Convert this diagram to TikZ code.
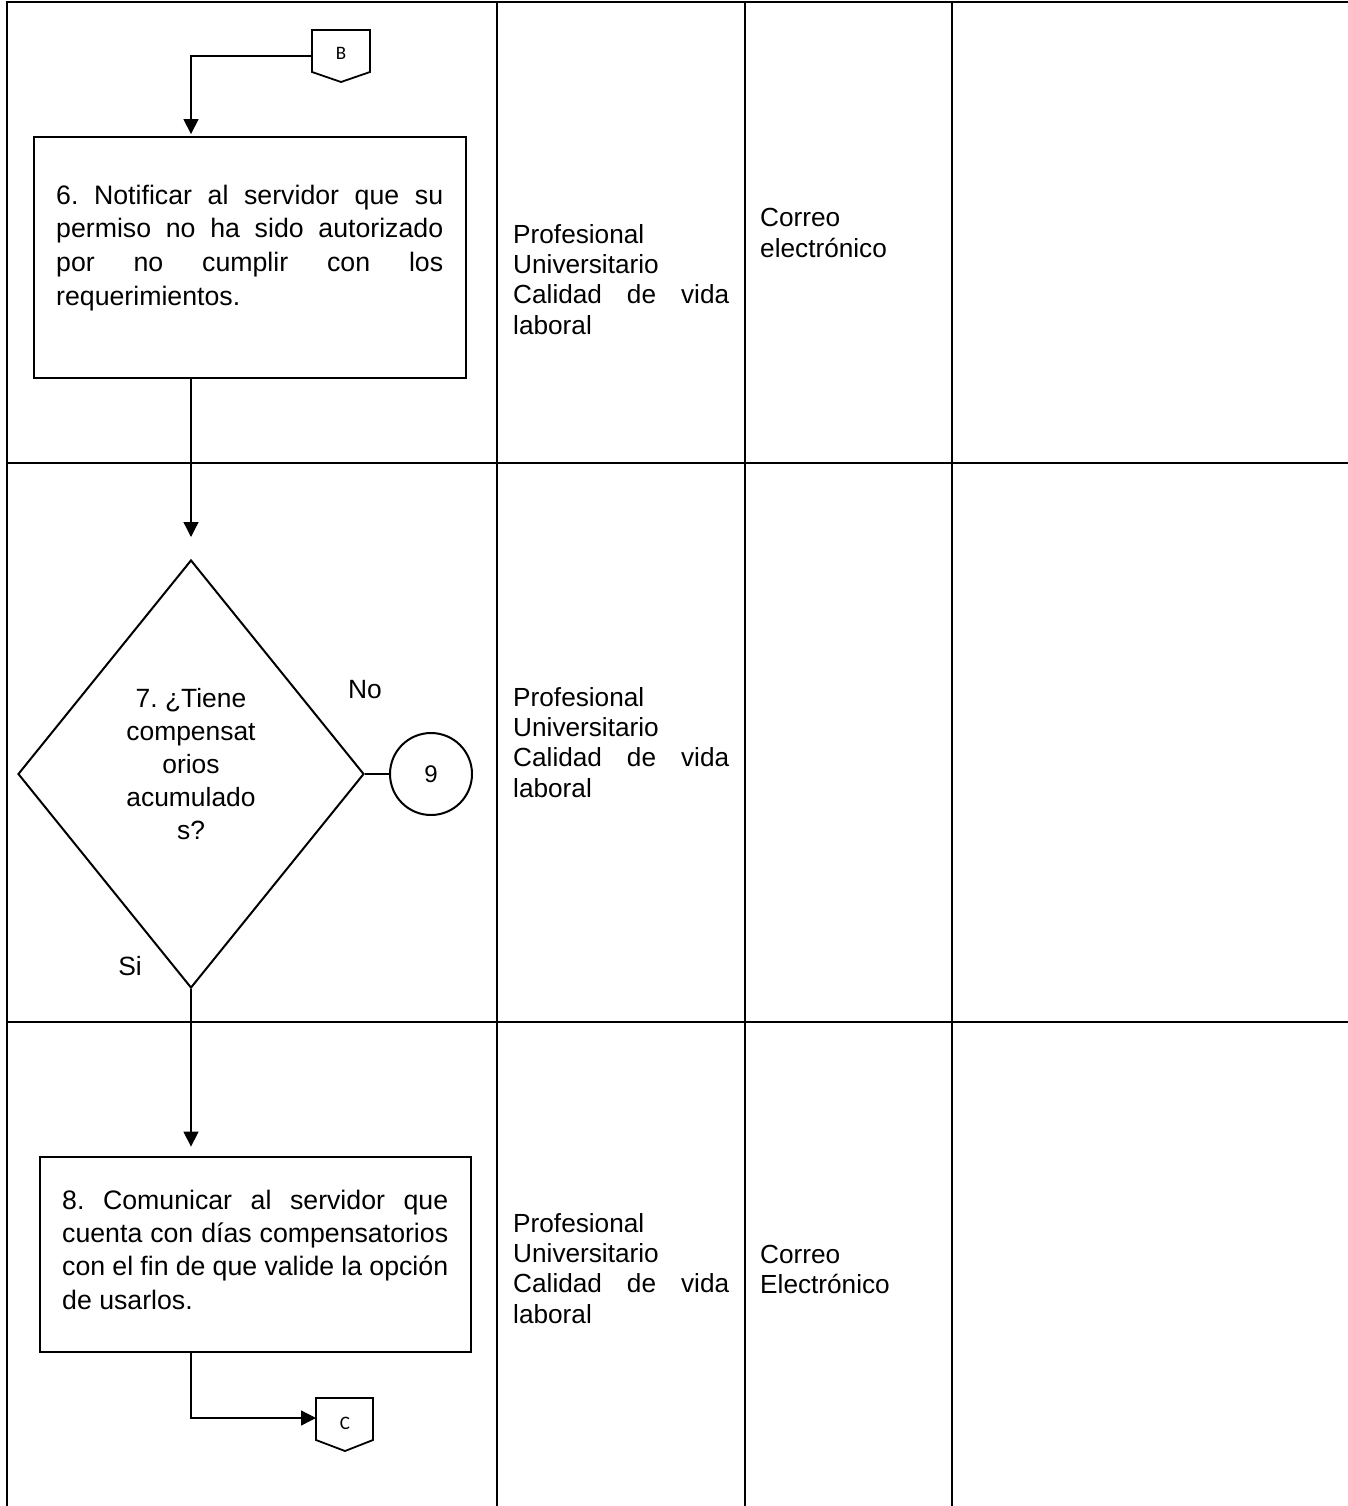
\documentclass[tikz,border=0pt]{standalone}
\usepackage{fontspec}
\setmainfont{Liberation Sans}
\newfontfamily\connfont{Carlito}
\usetikzlibrary{arrows.meta,shapes.geometric}
% a line of text stretched to a given width (justified line)
\newcommand{\jline}[2]{\makebox[#1][s]{#2}}
\frenchspacing

\begin{document}
\begin{tikzpicture}[x=1pt,y=-1pt,
  lane/.style={line width=2.2pt},
  procbox/.style={draw, rectangle, line width=2.8pt, inner sep=0pt},
  decision/.style={draw, diamond, line width=2pt, inner sep=0pt},
  onpage/.style={draw, circle, line width=2pt, inner sep=0pt, minimum size=82pt,
                 font=\fontsize{24}{28}\selectfont},
  flow/.style={line width=1.3pt},
  arr/.style={flow, -{Triangle[length=15pt,width=15pt]}},
  pagecon/.style={line width=1.8pt, line join=miter},
  boxtext/.style={inner sep=0pt, align=left, anchor=base west,
                  font=\fontsize{26.7}{33.5}\selectfont},
  lanetext/.style={inner sep=0pt, align=left, anchor=base west,
                   font=\fontsize{26.2}{30.3}\selectfont},
  branchtext/.style={inner sep=0pt, anchor=base, font=\fontsize{26.4}{30}\selectfont},
  context/.style={inner sep=0pt, font=\connfont\fontsize{19}{22}\selectfont}
]
\useasboundingbox (0,0) rectangle (1348,1506);

% ---- table grid ----
\draw[lane] (6,2) -- (1348,2);
\draw[lane] (7,463) -- (1348,463);
\draw[lane] (7,1022) -- (1348,1022);
\foreach \x in {7,497,745,952}
  \draw[lane] (\x,1) -- (\x,1506);

% ---- off-page connector B ----
\draw[pagecon] (312,30) -- (370,30) -- (370,72) -- (341,82) -- (312,72) -- cycle;
\node[context] (offB) at (341,53) {B};
\coordinate (Bin) at (312,56);

% ---- step 6 (text anchored on its last baseline) ----
\node[procbox, minimum width=432pt, minimum height=241pt] (s6) at (250,257.5) {};
\node[boxtext] (t6) at (56,305)
  {\jline{387pt}{6. Notificar al servidor que su}\\
   \jline{387pt}{permiso no ha sido autorizado}\\
   \jline{387pt}{por no cumplir con los}\\
   requerimientos.};

% ---- decision 7 ----
\node[decision, minimum width=346pt, minimum height=428pt] (d7) at (191,774) {};
\node[inner sep=0pt, align=center, anchor=base,
      font=\fontsize{26.4}{33}\selectfont] (q7) at (191,839)
  {7. ¿Tiene\\compensat\\orios\\acumulado\\s?};
\node[onpage] (c9) at (431,774) {9};
\node[branchtext] (lno) at (365,698) {No};
\node[branchtext] (lsi) at (130,975) {Si};

% ---- step 8 ----
\node[procbox, minimum width=431pt, minimum height=195pt] (s8) at (255.5,1254.5) {};
\node[boxtext, font=\fontsize{26.7}{33.3}\selectfont] (t8) at (62,1309)
  {\jline{386pt}{8. Comunicar al servidor que}\\
   \jline{386pt}{cuenta con días compensatorios}\\
   \jline{386pt}{con el fin de que valide la opción}\\
   de usarlos.};

% ---- off-page connector C ----
\draw[pagecon] (316,1398) -- (373,1398) -- (373,1440) -- (345,1451) -- (316,1440) -- cycle;
\node[context] (offC) at (345,1423) {C};
\coordinate (Cin) at (316,1418);

% ---- responsible and medium columns ----
\node[lanetext] (r1) at (513,334)
  {Profesional\\Universitario\\\jline{216pt}{Calidad de vida}\\laboral};
\node[lanetext, font=\fontsize{26.2}{31}\selectfont] (m1) at (760,258)
  {Correo\\electrónico};
\node[lanetext] (r2) at (513,797)
  {Profesional\\Universitario\\\jline{216pt}{Calidad de vida}\\laboral};
\node[lanetext] (r3) at (513,1323)
  {Profesional\\Universitario\\\jline{216pt}{Calidad de vida}\\laboral};
\node[lanetext, font=\fontsize{26.2}{30.5}\selectfont] (m3) at (760,1293.5)
  {Correo\\Electrónico};

% ---- flow lines ----
\draw[arr, shorten >=1.5pt] (Bin) -| (s6.north -| d7.north);
\draw[arr, shorten >=22pt] (s6.south -| d7.north) -- (d7.north);
\draw[flow] (d7.east) -- (d7.east -| c9.west);
\draw[arr, shorten >=9pt] (d7.south) -- (s8.north -| d7.south);
\draw[arr] (s8.south -| d7.south) |- (Cin);
\end{tikzpicture}
\end{document}
